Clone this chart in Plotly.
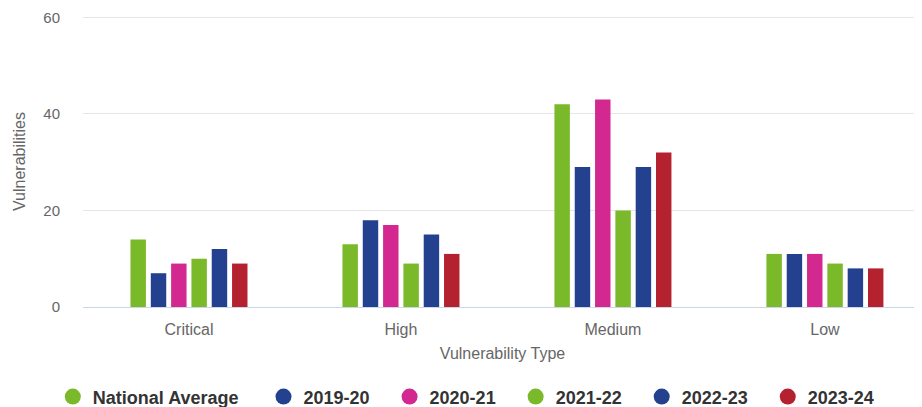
import plotly.graph_objects as go

categories = ["Critical", "High", "Medium", "Low"]
series_names = ["National Average", "2019-20", "2020-21", "2021-22", "2022-23", "2023-24"]
national_average = [14, 13, 42, 11]
y2019_20 = [7, 18, 29, 11]
y2020_21 = [9, 17, 43, 11]
y2021_22 = [10, 9, 20, 9]
y2022_23 = [12, 15, 29, 8]
y2023_24 = [9, 11, 32, 8]
y_ticks = [0, 20, 40, 60]

series_values = [national_average, y2019_20, y2020_21, y2021_22, y2022_23, y2023_24]
colors = ["#7ab92a", "#24418f", "#d3288f", "#7ab92a", "#24418f", "#b5222f"]
pad = ["\u00a0" * 4] + ["\u00a0" * 3] * 5

fig = go.Figure()
for name, vals, col in zip(series_names, series_values, colors):
    fig.add_trace(go.Bar(x=categories, y=vals, name=name, marker_color=col,
                         marker_line_width=0, showlegend=False))
for name, col, p in zip(series_names, colors, pad):
    fig.add_trace(go.Scatter(x=[None], y=[None], mode="markers", name=name + p,
                             marker=dict(color=col, size=16, symbol="circle")))

fig.update_layout(
    width=914, height=399,
    margin=dict(l=75, r=0, t=8, b=100, autoexpand=False),
    paper_bgcolor="white", plot_bgcolor="white",
    barmode="group", bargap=0.425, bargroupgap=0.24,
    font=dict(family="Liberation Sans, Arial, sans-serif", color="#666666", size=15),
    xaxis=dict(
        range=[-0.5, 3.458], showgrid=False, showline=True, linecolor="#ccd6eb",
        linewidth=1, ticks="", tickfont=dict(size=16, color="#666666"), ticklabelstandoff=8,
        title=dict(text="Vulnerability Type", font=dict(size=16, color="#666666"), standoff=10),
    ),
    yaxis=dict(
        range=[0, 60.3], tickvals=y_ticks, showgrid=True, gridcolor="#e6e6e6",
        zeroline=False, tickfont=dict(size=15, color="#666666"), ticklabelstandoff=22,
        ticklabeloverflow="allow",
        title=dict(text="Vulnerabilities", font=dict(size=16, color="#666666"), standoff=13),
    ),
    legend=dict(
        orientation="h", x=-0.036, xanchor="left", y=-0.309, yanchor="middle",
        font=dict(size=18, color="#333333", weight=700), itemsizing="trace",
    ),
)

fig.write_html("out.html")
